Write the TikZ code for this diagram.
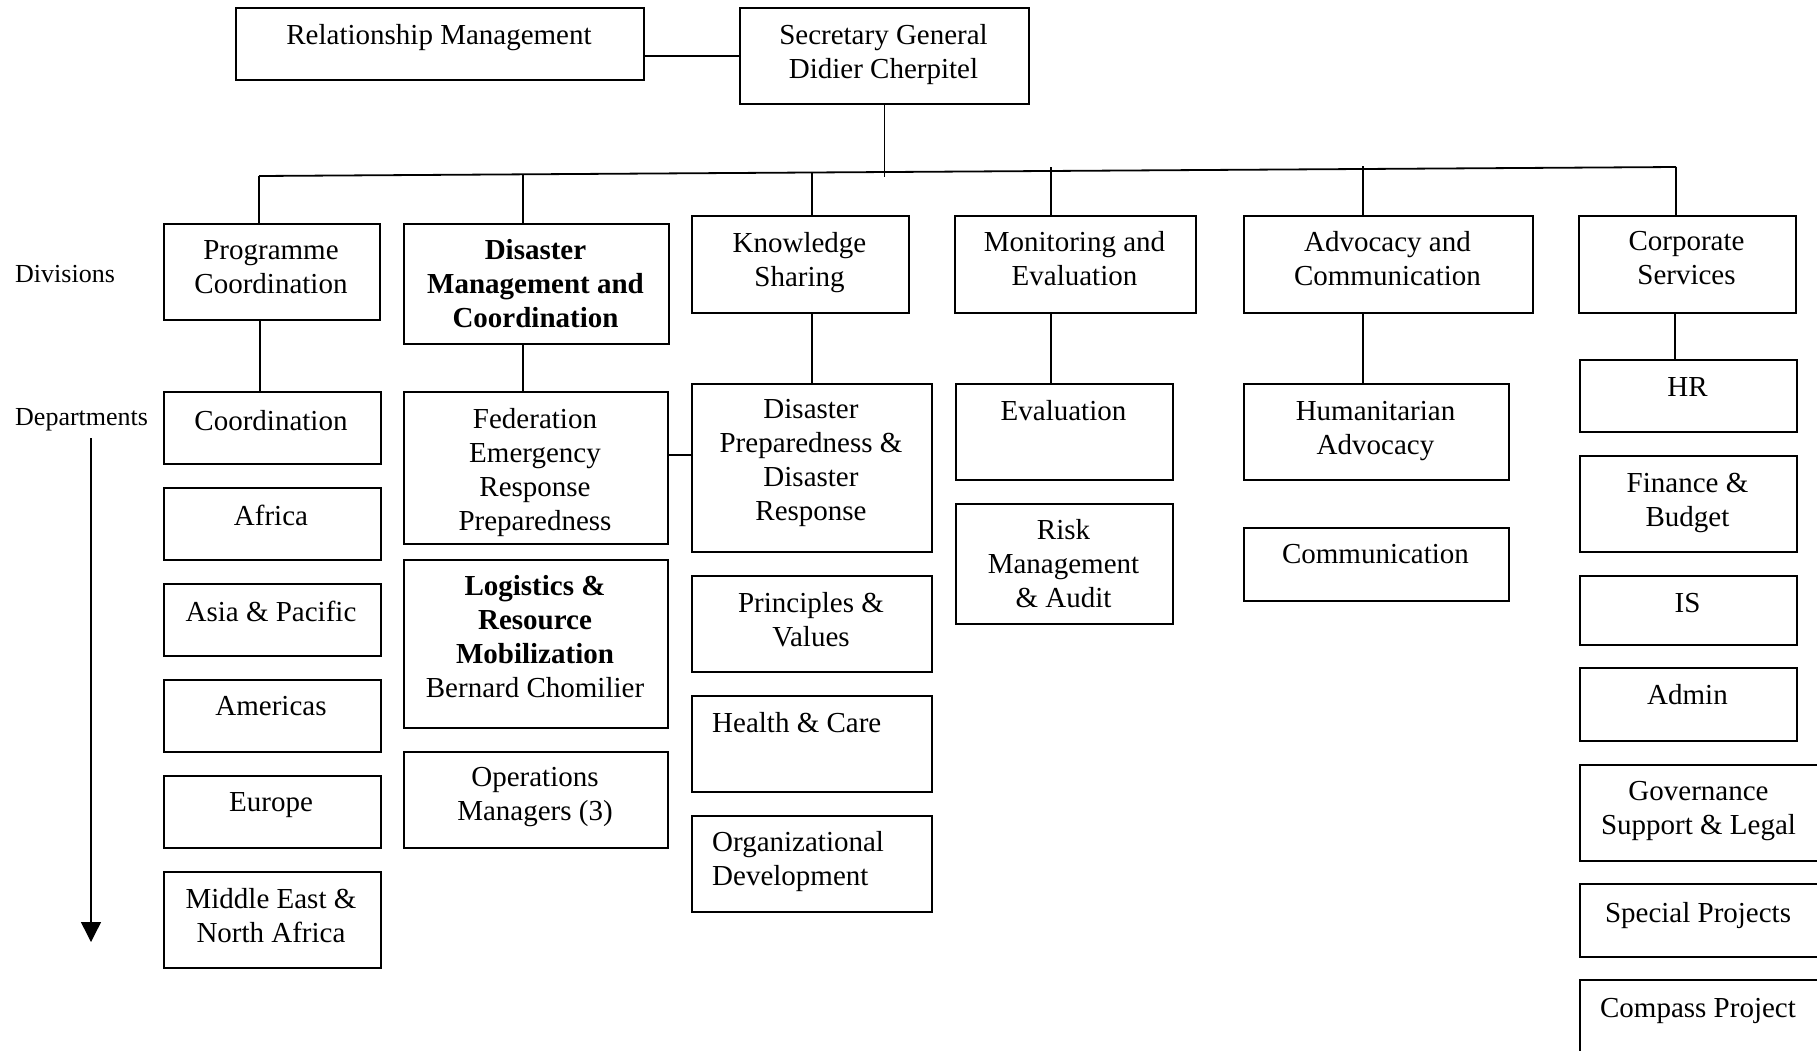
\documentclass[tikz,border=0pt]{standalone}
\usepackage{fontspec}
\setmainfont{Liberation Serif}
\usetikzlibrary{arrows.meta}
\begin{document}
\begin{tikzpicture}[x=1pt,y=-1pt,
  box/.style={draw,line width=2pt,rectangle,inner sep=0pt,anchor=north west},
  txt/.style={font=\fontsize{29}{34}\selectfont,align=center,inner sep=0pt,anchor=north},
  ltxt/.style={font=\fontsize{29}{34}\selectfont,align=left,inner sep=0pt,anchor=north west},
  lbl/.style={font=\fontsize{26}{30}\selectfont,inner sep=0pt,anchor=base west},
  conn/.style={line width=1.4pt},
  bus/.style={line width=1.8pt}]
\clip (0,0) rectangle (1817,1050);
\fill[white] (0,0) rectangle (1817,1050);

% ---------- top ----------
\node[box,minimum width=408pt,minimum height=72pt] (RM) at (235,7) {};
\node[txt] (tRM) at (439,24) {Relationship Management};
\node[box,minimum width=289pt,minimum height=96pt] (SG) at (739,7) {};
\node[txt] (tSG) at (883.5,24) {Secretary General\\Didier Cherpitel};

% ---------- divisions ----------
\node[box,minimum width=216pt,minimum height=96pt] (PC) at (163,223) {};
\node[txt] (tPC) at (271,240) {Programme\\Coordination};
\node[box,minimum width=265pt,minimum height=120pt] (DM) at (403,223) {};
\node[txt,font=\fontsize{29}{34}\selectfont\bfseries] (tDM) at (535.5,239) {Disaster\\Management and\\Coordination};
\node[box,minimum width=217pt,minimum height=97pt] (KS) at (691,215) {};
\node[txt] (tKS) at (799.5,232) {Knowledge\\Sharing};
\node[box,minimum width=241pt,minimum height=97pt] (ME) at (954,215) {};
\node[txt] (tME) at (1074.5,231) {Monitoring and\\Evaluation};
\node[box,minimum width=289pt,minimum height=97pt] (AC) at (1243,215) {};
\node[txt] (tAC) at (1387.5,231) {Advocacy and\\Communication};
\node[box,minimum width=217pt,minimum height=97pt] (CS) at (1578,215) {};
\node[txt] (tCS) at (1686.5,231) {Corporate\\Services};

% ---------- side labels ----------
\node[lbl] (lDiv) at (15,282) {Divisions};
\node[lbl] (lDep) at (15,425) {Departments};
\coordinate (arrS) at (91,438);
\coordinate (arrE) at (91,942);
\draw[line width=1.4pt,-{Triangle[width=20pt,length=20pt]}] (arrS) -- (arrE);

% ---------- column 1 ----------
\node[box,minimum width=217pt,minimum height=72pt] (Coord) at (163,391) {};
\node[txt] (tCoord) at (271,410) {Coordination};
\node[box,minimum width=217pt,minimum height=72pt] (Afr) at (163,487) {};
\node[txt] (tAfr) at (271,505) {Africa};
\node[box,minimum width=217pt,minimum height=72pt] (Asia) at (163,583) {};
\node[txt] (tAsia) at (271,601) {Asia \& Pacific};
\node[box,minimum width=217pt,minimum height=72pt] (Amer) at (163,679) {};
\node[txt] (tAmer) at (271,696.5) {Americas};
\node[box,minimum width=217pt,minimum height=72pt] (Eur) at (163,775) {};
\node[txt] (tEur) at (271,792) {Europe};
\node[box,minimum width=217pt,minimum height=96pt] (MENA) at (163,871) {};
\node[txt] (tMENA) at (271,888) {Middle East \&\\North Africa};

% ---------- column 2 ----------
\node[box,minimum width=264pt,minimum height=152pt] (FERP) at (403,391) {};
\node[txt] (tFERP) at (535,408) {Federation\\Emergency\\Response\\Preparedness};
\node[box,minimum width=264pt,minimum height=168pt] (LOG) at (403,559) {};
\node[txt] (tLOG) at (535,575.5) {\textbf{Logistics \&}\\\textbf{Resource}\\\textbf{Mobilization}\\Bernard Chomilier};
\node[box,minimum width=264pt,minimum height=96pt] (OPS) at (403,751) {};
\node[txt] (tOPS) at (535,767) {Operations\\Managers (3)};

% ---------- column 3 ----------
\node[box,minimum width=240pt,minimum height=168pt] (DPDR) at (691,383) {};
\node[txt] (tDPDR) at (811,399.5) {Disaster\\Preparedness \&\\Disaster\\Response};
\node[box,minimum width=240pt,minimum height=96pt] (PV) at (691,575) {};
\node[txt] (tPV) at (811,592) {Principles \&\\Values};
\node[box,minimum width=240pt,minimum height=96pt] (HC) at (691,695) {};
\node[ltxt] (tHC) at (712,712) {Health \& Care};
\node[box,minimum width=240pt,minimum height=96pt] (OD) at (691,815) {};
\node[ltxt] (tOD) at (712,831) {Organizational\\Development};

% ---------- column 4 ----------
\node[box,minimum width=217pt,minimum height=96pt] (EV) at (955,383) {};
\node[txt] (tEV) at (1063.5,400.6) {Evaluation};
\node[box,minimum width=217pt,minimum height=120pt] (RK) at (955,503) {};
\node[txt] (tRK) at (1063.5,519) {Risk\\Management\\\& Audit};

% ---------- column 5 ----------
\node[box,minimum width=265pt,minimum height=96pt] (HA) at (1243,383) {};
\node[txt] (tHA) at (1375.5,400.6) {Humanitarian\\Advocacy};
\node[box,minimum width=265pt,minimum height=73pt] (CM) at (1243,527) {};
\node[txt] (tCM) at (1375.5,544) {Communication};

% ---------- column 6 ----------
\node[box,minimum width=217pt,minimum height=72pt] (HR) at (1579,359) {};
\node[txt] (tHR) at (1687.5,377.5) {HR};
\node[box,minimum width=217pt,minimum height=96pt] (FIN) at (1579,455) {};
\node[txt] (tFIN) at (1687.5,472.6) {Finance \&\\Budget};
\node[box,minimum width=217pt,minimum height=69pt] (IS) at (1579,575) {};
\node[txt] (tIS) at (1687.5,592.6) {IS};
\node[box,minimum width=217pt,minimum height=73pt] (ADM) at (1579,667) {};
\node[txt] (tADM) at (1687.5,684.6) {Admin};
\node[box,minimum width=245pt,minimum height=96pt] (GOV) at (1579,764) {};
\node[txt] (tGOV) at (1698.5,781) {Governance\\Support \& Legal};
\node[box,minimum width=245pt,minimum height=73pt] (SP) at (1579,883) {};
\node[txt] (tSP) at (1698,902) {Special Projects};
\node[box,minimum width=245pt,minimum height=96pt] (CP) at (1579,979) {};
\node[txt] (tCP) at (1698,998) {Compass Project};

% ---------- connectors ----------
\draw[conn] (SG.west -| RM.east) -- (SG.west);
\coordinate (busL) at (259,176);
\coordinate (busR) at (1676,167);
\coordinate (sgJ) at (884,176.5);
\draw[conn] (SG.south) -- (SG.south |- sgJ);
\draw[bus] (busL) -- (busR);
\coordinate (dDM) at (523,174.3);
\coordinate (dKS) at (812,172.5);
\coordinate (dME) at (1051,167);
\coordinate (dAC) at (1363,166);
\draw[conn] (busL) -- (busL |- PC.north);
\draw[conn] (dDM) -- (dDM |- DM.north);
\draw[conn] (dKS) -- (dKS |- KS.north);
\draw[conn] (dME) -- (dME |- ME.north);
\draw[conn] (dAC) -- (dAC |- AC.north);
\draw[conn] (busR) -- (busR |- CS.north);

\coordinate (dPCl) at (260,0);
\draw[conn] (dPCl |- PC.south) -- (dPCl |- Coord.north);
\draw[conn] (dDM |- DM.south) -- (dDM |- FERP.north);
\draw[conn] (dKS |- KS.south) -- (dKS |- DPDR.north);
\draw[conn] (dME |- ME.south) -- (dME |- EV.north);
\draw[conn] (dAC |- AC.south) -- (dAC |- HA.north);
\coordinate (dCSl) at (1675,0);
\draw[conn] (dCSl |- CS.south) -- (dCSl |- HR.north);
\coordinate (fd) at (0,455);
\draw[conn] (FERP.east |- fd) -- (DPDR.west |- fd);
\end{tikzpicture}
\end{document}
